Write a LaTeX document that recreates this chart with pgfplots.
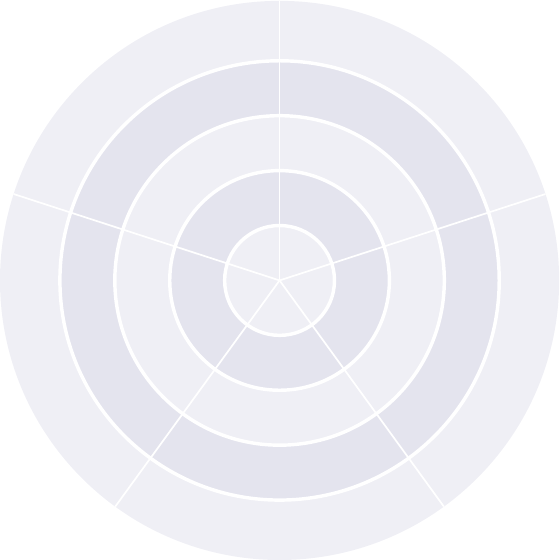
\documentclass[border=0pt]{standalone}
\usepackage{pgfplots}
\pgfplotsset{compat=1.18}
\definecolor{ringlight}{HTML}{EFEFF5}
\definecolor{ringdark}{HTML}{E4E4EE}
\begin{document}
\begin{tikzpicture}
\begin{axis}[
  width=8cm, height=8cm, scale only axis,
  xmin=-280, xmax=280, ymin=-280, ymax=280,
  hide axis, clip=false,
]
% background disk and alternating rings (radius in axis units)
\fill[ringlight] (axis cs:0,0) circle[radius=280];
\fill[ringdark]  (axis cs:0,0) circle[radius=220];
\fill[ringlight] (axis cs:0,0) circle[radius=165];
\fill[ringdark]  (axis cs:0,0) circle[radius=110];
\fill[ringlight] (axis cs:0,0) circle[radius=55];
% ring borders
\pgfplotsinvokeforeach{55,110,165,220}{
  \draw[white, line width=1.4pt] (axis cs:0,0) circle[radius=#1];
}
% spokes
\pgfplotsinvokeforeach{90,18,-54,-126,162}{
  \draw[white, line width=0.7pt] (axis cs:0,0) -- (axis cs:{280*cos(#1)},{280*sin(#1)});
}
\end{axis}
\end{tikzpicture}
\end{document}
